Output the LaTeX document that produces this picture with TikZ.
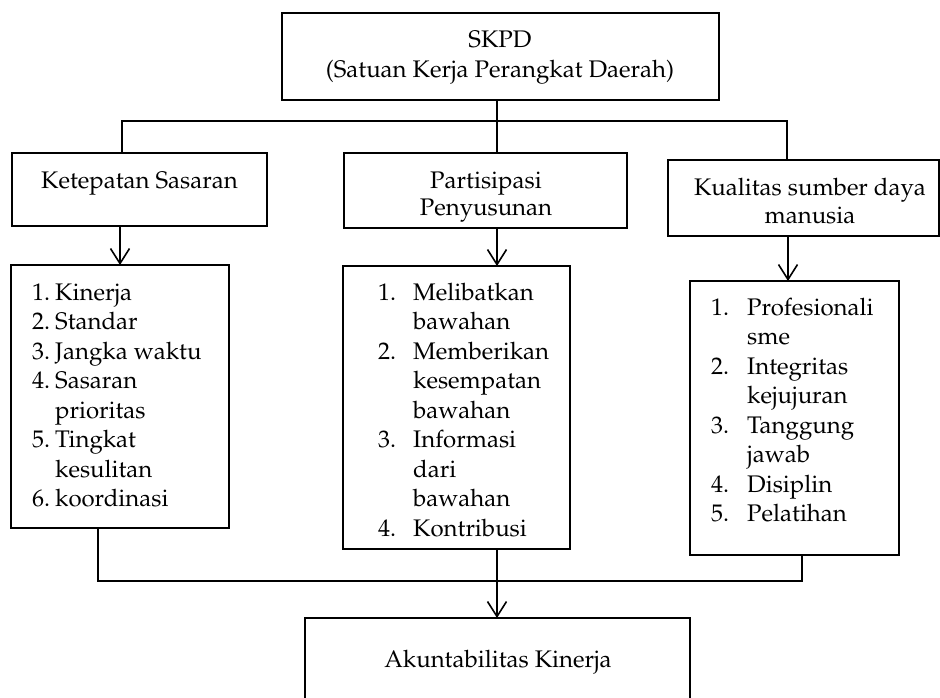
\documentclass[tikz,border=0pt]{standalone}
\usepackage[T1]{fontenc}
\usepackage{mathpazo}
\usetikzlibrary{arrows.meta}
\begin{document}
\begin{tikzpicture}[x=1pt,y=-1pt,
  box/.style={draw, line width=2.2pt, rectangle, inner sep=0pt, outer sep=0pt},
  conn/.style={line width=1.6pt},
  arr/.style={conn, -{Straight Barb[length=15pt,width=19pt]}},
  txt/.style={inner sep=0pt, font=\fontsize{24}{29.5}\selectfont},
]
\useasboundingbox (0,0) rectangle (940,697);
\clip (0,0) rectangle (940,697);
% boxes
\node[box, minimum width=437pt, minimum height=87pt] (skpd) at (500.5,56.5) {};
\node[box, minimum width=255pt, minimum height=73pt] (ket) at (139.5,189.5) {};
\node[box, minimum width=283pt, minimum height=75pt] (part) at (485.5,190.5) {};
\node[box, minimum width=271pt, minimum height=76pt] (kual) at (803.5,198) {};
\node[box, minimum width=218pt, minimum height=263pt] (llist) at (120,396.5) {};
\node[box, minimum width=227pt, minimum height=283pt] (mlist) at (456.5,407.5) {};
\node[box, minimum width=209pt, minimum height=274pt] (rlist) at (794.5,418) {};
\node[box, minimum width=385pt, minimum height=102pt] (akun) at (497.5,669) {};
% texts
\node[txt, anchor=base] (t1) at (500,47) {SKPD};
\node[txt, anchor=base] (t2) at (500,77) {(Satuan Kerja Perangkat Daerah)};
\node[txt, anchor=base] (t3) at (139.5,188) {Ketepatan Sasaran};
\node[txt, anchor=base] (t4) at (486,188) {Partisipasi};
\node[txt, anchor=base] (t5) at (486,215) {Penyusunan};
\node[txt, anchor=base] (t6) at (810,195) {Kualitas sumber daya};
\node[txt, anchor=base] (t7) at (810,223) {manusia};
\node[txt, anchor=base] (t8) at (498,667) {Akuntabilitas Kinerja};
% lists
\node[txt, anchor=base west] (l1) at (32,300) {\begin{tabular}[t]{@{}p{23pt}@{}l@{}}
1.&Kinerja\\
2.&Standar\\
3.&Jangka waktu\\
4.&Sasaran\\
&prioritas\\
5.&Tingkat\\
&kesulitan\\
6.&koordinasi
\end{tabular}};
\node[txt, anchor=base west] (l2) at (378,300) {\begin{tabular}[t]{@{}p{35pt}@{}l@{}}
1.&Melibatkan\\
&bawahan\\
2.&Memberikan\\
&kesempatan\\
&bawahan\\
3.&Informasi\\
&dari\\
&bawahan\\
4.&Kontribusi
\end{tabular}};
\node[txt, anchor=base west] (l3) at (711,315) {\begin{tabular}[t]{@{}p{36pt}@{}l@{}}
1.&Profesionali\\
&sme\\
2.&Integritas\\
&kejujuran\\
3.&Tanggung\\
&jawab\\
4.&Disiplin\\
5.&Pelatihan
\end{tabular}};
% connector coordinates
\coordinate (cT) at (497,121);
\coordinate (cL) at (122,121);
\coordinate (cR) at (787,121);
\coordinate (aL) at (120,0);
\coordinate (aM) at (497,0);
\coordinate (aR) at (788,0);
\coordinate (bL) at (98,581);
\coordinate (bR) at (802,581);
\coordinate (bM) at (497,581);
% connectors
\draw[conn] (skpd.south -| cT) -- (part.north -| cT);
\draw[conn] (ket.north -| cL) -- (cL) -- (cR) -- (kual.north -| cR);
\draw[arr] (ket.south -| aL) -- (llist.north -| aL);
\draw[arr] (part.south -| aM) -- (mlist.north -| aM);
\draw[arr] (kual.south -| aR) -- (rlist.north -| aR);
\draw[conn] (llist.south -| bL) -- (bL) -- (bR) -- (rlist.south -| bR);
\draw[arr] (mlist.south -| bM) -- (akun.north -| bM);
\end{tikzpicture}
\end{document}
